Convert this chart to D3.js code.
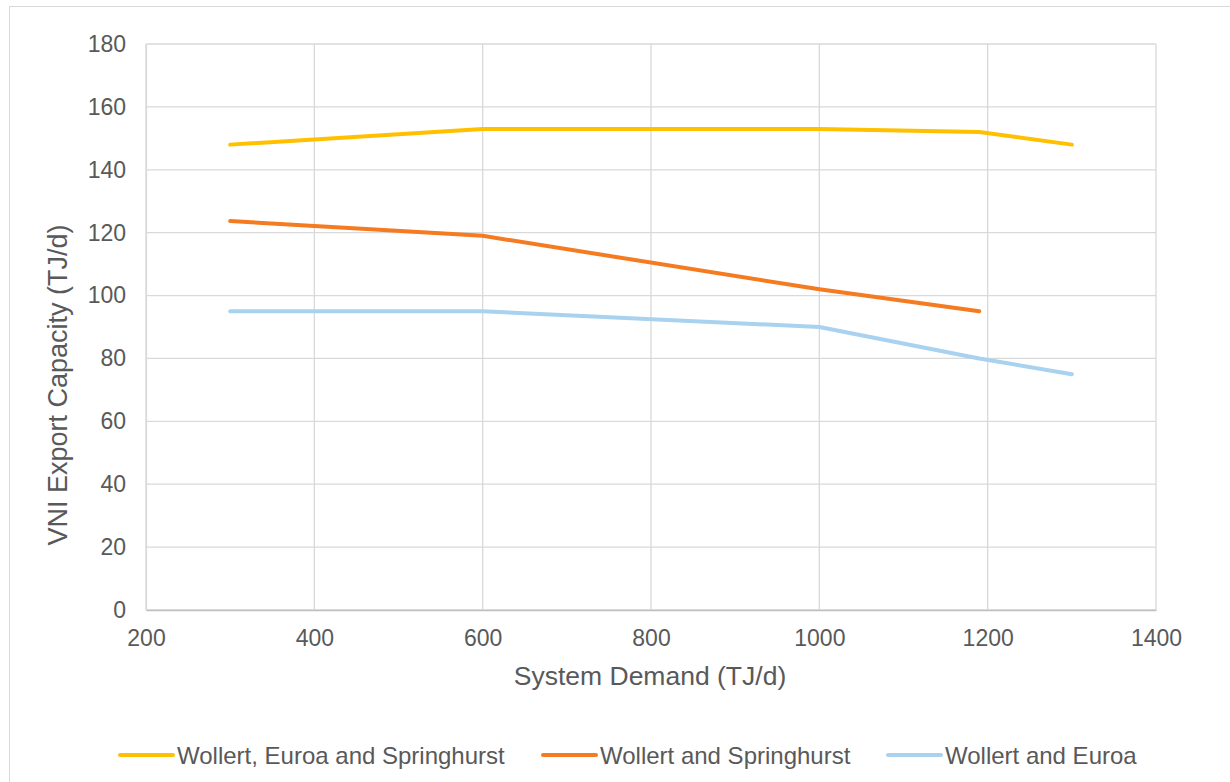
<!DOCTYPE html>
<html><head><meta charset="utf-8">
<script src="https://cdn.jsdelivr.net/npm/d3@7"></script>
<style>body{margin:0;background:#fff;}svg{display:block;font-family:"Liberation Sans",Arial,sans-serif;}</style>
</head><body>
<svg id="c" width="1230" height="782"></svg>
<script>
const seriesNames = ["Wollert, Euroa and Springhurst","Wollert and Springhurst","Wollert and Euroa"];
const seriesColors = ["#FFC000","#F47B20","#A9D1F0"];
const xWES = [300, 600, 1000, 1190, 1300];
const yWES = [148, 153, 153, 152, 148];
const xWS = [300, 600, 1000, 1190];
const yWS = [123.7, 119, 102, 95];
const xWE = [300, 600, 1000, 1190, 1300];
const yWE = [95, 95, 90, 80, 75];
const xTicks = [200,400,600,800,1000,1200,1400];
const yTicks = [0,20,40,60,80,100,120,140,160,180];

const series = [
  {name: seriesNames[0], color: seriesColors[0], pts: xWES.map((x,i)=>[x,yWES[i]])},
  {name: seriesNames[1], color: seriesColors[1], pts: xWS.map((x,i)=>[x,yWS[i]])},
  {name: seriesNames[2], color: seriesColors[2], pts: xWE.map((x,i)=>[x,yWE[i]])}
];

const svg = d3.select("#c");
const textCol = "#595959", gridCol = "#D9D9D9";
// outer chart border
svg.append("rect").attr("x",9.5).attr("y",6.5).attr("width",1240).attr("height",800)
  .attr("fill","none").attr("stroke","#D9D9D9").attr("stroke-width",1);

const L=146, R=1156, T=44, B=610;
const x = d3.scaleLinear().domain([200,1400]).range([L,R]);
const y = d3.scaleLinear().domain([0,180]).range([B,T]);

const g = svg.append("g");
// grid
g.selectAll(".vg").data(xTicks).join("line")
  .attr("x1",d=>x(d)).attr("x2",d=>x(d)).attr("y1",T).attr("y2",B)
  .attr("stroke",gridCol).attr("stroke-width",1.3);
g.selectAll(".hg").data(yTicks).join("line")
  .attr("x1",L).attr("x2",R).attr("y1",d=>y(d)).attr("y2",d=>y(d))
  .attr("stroke",gridCol).attr("stroke-width",1.3);

// axes
const xAxis = d3.axisBottom(x).tickValues(xTicks).tickFormat(d3.format("d")).tickSize(0).tickPadding(20);
const yAxis = d3.axisLeft(y).tickValues(yTicks).tickFormat(d3.format("d")).tickSize(0).tickPadding(20);
const gx = g.append("g").attr("transform",`translate(0,${B})`).call(xAxis);
const gy = g.append("g").attr("transform",`translate(${L},0)`).call(yAxis);
[gx,gy].forEach(a=>{
  a.select(".domain").attr("stroke","#BFBFBF").attr("stroke-width",1.3);
  a.selectAll("text").attr("fill",textCol).style("font-size","23px").style("font-family","'Liberation Sans',Arial,sans-serif");
});
gy.select(".domain").attr("stroke",gridCol);

// lines
const line = d3.line().x(d=>x(d[0])).y(d=>y(d[1]));
g.selectAll(".s").data(series).join("path")
  .attr("d",d=>line(d.pts)).attr("fill","none")
  .attr("stroke",d=>d.color).attr("stroke-width",4).attr("stroke-linecap","round").attr("stroke-linejoin","round");

// axis titles
svg.append("text").attr("x",650).attr("y",685).attr("text-anchor","middle")
  .attr("fill",textCol).style("font-size","26.5px").text("System Demand (TJ/d)");
svg.append("text").attr("transform",`translate(67,385) rotate(-90)`).attr("text-anchor","middle")
  .attr("fill",textCol).style("font-size","27px").text("VNI Export Capacity (TJ/d)");

// legend
const legX = [120, 543, 888];
const lg = svg.selectAll(".lg").data(series).join("g").attr("transform",(d,i)=>`translate(${legX[i]},755)`);
lg.append("line").attr("x1",0).attr("x2",53).attr("y1",0).attr("y2",0)
  .attr("stroke",d=>d.color).attr("stroke-width",4).attr("stroke-linecap","round");
lg.append("text").attr("x",57).attr("y",8.5).attr("fill",textCol).style("font-size","24px").text(d=>d.name);
</script>
</body></html>
